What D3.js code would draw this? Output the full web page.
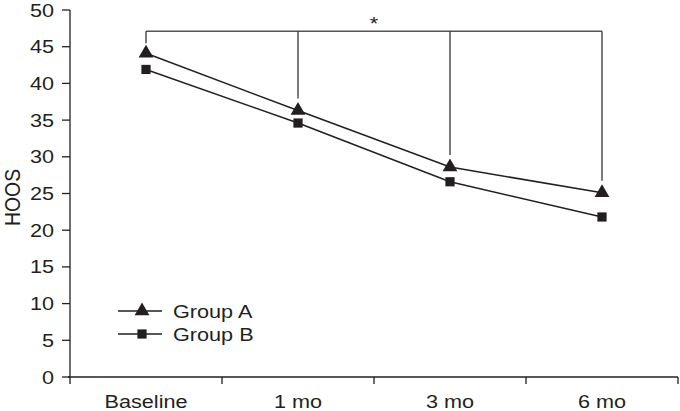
<!DOCTYPE html>
<html>
<head>
<meta charset="utf-8">
<script src="https://cdn.jsdelivr.net/npm/d3@7"></script>
<style>
  body { margin: 0; background: #fff; }
  text { font-family: "Liberation Sans", Arial, sans-serif; fill: #231f20; font-size: 18.5px; }
</style>
</head>
<body>
<div id="chart"></div>
<script>
// datos
const categories = ['Baseline', '1 mo', '3 mo', '6 mo'];
const groupA = [44.1, 36.3, 28.6, 25.1];
const groupB = [41.9, 34.6, 26.6, 21.8];
const yTicks = [0, 5, 10, 15, 20, 25, 30, 35, 40, 45, 50];
const seriesNames = ['Group A', 'Group B'];
const bracketLevel = 47.1;
const sigLabel = '*';

const W = 680, H = 411;
const margin = { top: 10, right: 2, bottom: 34, left: 70 };
const width = W - margin.left - margin.right;
const height = H - margin.top - margin.bottom;
const sx = 1.17; // el texto del original está estirado en horizontal

const svg = d3.select('#chart').append('svg')
  .attr('width', W).attr('height', H)
  .append('g')
  .attr('transform', `translate(${margin.left},${margin.top})`);

const x = d3.scaleBand().domain(categories).range([0, width]);
const y = d3.scaleLinear().domain([0, 50]).range([height, 0]);
const cx = (d) => x(d) + x.bandwidth() / 2;

// texto estirado
function label(parent, tx, ty, str, anchor) {
  return parent.append('text')
    .attr('transform', `translate(${tx},${ty}) scale(${sx},1)`)
    .attr('text-anchor', anchor || 'start')
    .text(str);
}

// eje y
const yAxis = svg.append('g');
yAxis.append('line').attr('x1', 0).attr('x2', 0).attr('y1', 0).attr('y2', height)
  .attr('stroke', '#231f20').attr('stroke-width', 1.3);
yAxis.selectAll('.tk').data(yTicks).enter().append('line')
  .attr('x1', -8).attr('x2', 0)
  .attr('y1', (d) => y(d)).attr('y2', (d) => y(d))
  .attr('stroke', '#231f20').attr('stroke-width', 1.3);
yTicks.forEach((t) => label(yAxis, -16, y(t) + 6.5, t, 'end'));

// eje x: marcas en los bordes de las bandas
const xAxis = svg.append('g').attr('transform', `translate(0,${height})`);
xAxis.append('line')
  .attr('x1', -2).attr('x2', width)
  .attr('stroke', '#231f20').attr('stroke-width', 1.3);
const edges = categories.map((c) => x(c)).concat([width]);
xAxis.selectAll('.tk').data(edges).enter().append('line')
  .attr('x1', (d) => d).attr('x2', (d) => d)
  .attr('y1', 0).attr('y2', 7)
  .attr('stroke', '#231f20').attr('stroke-width', 1.3);
categories.forEach((c) => label(xAxis, cx(c), 30.5, c, 'middle'));

// título eje y
svg.append('text')
  .attr('transform', `translate(${-50},${y(25) + 4}) rotate(-90) scale(1.05,${sx})`)
  .attr('text-anchor', 'middle')
  .text('HOOS');

// corchete de significancia
const yb = y(bracketLevel);
svg.append('line')
  .attr('x1', cx(categories[0])).attr('x2', cx(categories[3]))
  .attr('y1', yb).attr('y2', yb)
  .attr('stroke', '#555').attr('stroke-width', 1.6);
svg.selectAll('.drop').data(categories).enter().append('line')
  .attr('x1', cx).attr('x2', cx)
  .attr('y1', yb)
  .attr('y2', (d, i) => y(groupA[i]) - (i === 0 ? 10 : 12))
  .attr('stroke', '#333').attr('stroke-width', 1.3);
label(svg, x(categories[2]), yb - 1, sigLabel, 'middle');

// líneas
const line = d3.line().x((d, i) => cx(categories[i])).y((d) => y(d));
[groupA, groupB].forEach((s) => {
  svg.append('path').datum(s)
    .attr('d', line)
    .attr('fill', 'none')
    .attr('stroke', '#231f20').attr('stroke-width', 1.5);
});

const tri = d3.symbol().type(d3.symbolTriangle).size(95);
const sq = d3.symbol().type(d3.symbolSquare).size(85);

svg.selectAll('.ma').data(groupA).enter().append('path')
  .attr('d', tri)
  .attr('transform', (d, i) => `translate(${cx(categories[i])},${y(d)})`)
  .attr('fill', '#231f20');
svg.selectAll('.mb').data(groupB).enter().append('path')
  .attr('d', sq)
  .attr('transform', (d, i) => `translate(${cx(categories[i])},${y(d)})`)
  .attr('fill', '#231f20');

// leyenda
const legend = svg.append('g').attr('transform', `translate(${118 - margin.left},${311 - margin.top})`);
seriesNames.forEach((name, i) => {
  const g = legend.append('g').attr('transform', `translate(0,${i * 23})`);
  g.append('line').attr('x1', 0).attr('x2', 44)
    .attr('stroke', '#231f20').attr('stroke-width', 1.5);
  g.append('path').attr('d', i === 0 ? tri : sq)
    .attr('transform', 'translate(24,0)')
    .attr('fill', '#231f20');
  label(g, 55, 6.5, name);
});
</script>
</body>
</html>
